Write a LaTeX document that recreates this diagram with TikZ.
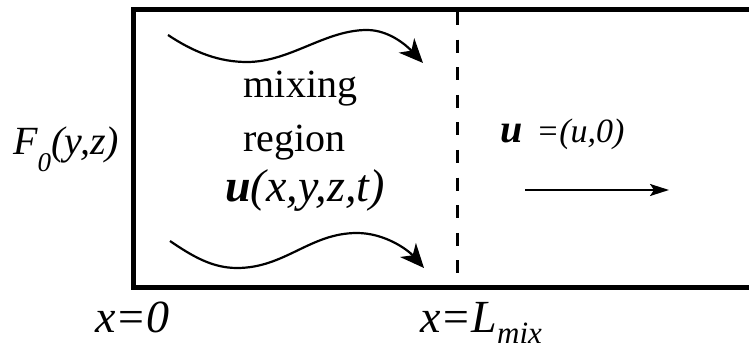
\documentclass[tikz,border=0pt]{standalone}
\usepackage{fontspec}
\setmainfont{LiberationSerif}[Extension=.ttf, UprightFont=*-Regular, ItalicFont=*-Italic, BoldFont=*-Bold, BoldItalicFont=*-BoldItalic]
\usetikzlibrary{arrows.meta}
\tikzset{
  wall/.style={line width=5pt, line join=miter},
  sep/.style={line width=3pt, dash pattern=on 13pt off 14.6pt},
  wave/.style={line width=2.2pt, -{Stealth[length=24pt,width=21pt,inset=7pt]}},
  flow/.style={line width=2pt, -{Stealth[length=19pt,width=12pt,inset=4pt]}},
  big/.style={font=\fontsize{40}{44}\selectfont, inner sep=0pt},
  lbl/.style={font=\fontsize{46}{50}\selectfont\itshape, inner sep=0pt},
  axl/.style={font=\fontsize{46}{50}\selectfont\itshape, inner sep=0pt},
}
\newcommand{\lowsub}[3]{\raisebox{#1}{\fontsize{#2}{#2}\selectfont\itshape #3}}
\begin{document}
\begin{tikzpicture}[x=1pt,y=-1pt]
\useasboundingbox (0,0) rectangle (749,352);
% box
\coordinate (tr) at (752,10);
\coordinate (tl) at (133,10);
\coordinate (bl) at (133,288);
\coordinate (br) at (752,288);
\draw[wall] (tr) -- (tl) -- (bl) -- (br);
% dashed separator
\coordinate (dtop) at (457.5,12);
\coordinate (dbot) at (457.5,275);
\draw[sep] (dtop) -- (dbot);
% wavy arrows
\coordinate (s1) at (168,35);
\coordinate (t1) at (247,62);
\coordinate (p1) at (367,30);
\coordinate (e1) at (423,63);
\draw[wave] (s1) .. controls (195,53) and (220,62) .. (t1)
  .. controls (290,62) and (325,30) .. (p1)
  .. controls (390,30) and (408,47) .. (e1);
\coordinate (s2) at (170,241);
\coordinate (t2) at (237,268);
\coordinate (p2) at (357,233);
\coordinate (e2) at (424,268);
\draw[wave] (s2) .. controls (192,256) and (212,268) .. (t2)
  .. controls (285,268) and (310,233) .. (p2)
  .. controls (385,233) and (408,250) .. (e2);
% flow arrow
\coordinate (fa) at (525,190);
\coordinate (fb) at (669,190);
\draw[flow] (fa) -- (fb);
% texts
\node[big, anchor=base] (mix) at (300.5,98) {mixing};
\node[big, anchor=base] (reg) at (294.5,152) {region};
\node[lbl, anchor=base west] (vel) at (225,202) {\textbf{u}(x,y,z,t)};
\node[big, anchor=base west] (F) at (13,155) {\itshape F\lowsub{-17pt}{27pt}{0}(y,z)};
\node[anchor=base west, inner sep=0pt] (uu) at (500,143) {\fontsize{40}{44}\selectfont\bfseries\itshape u\hspace{14pt}\fontsize{34}{36}\selectfont\mdseries =(u,0)};
\node[axl, anchor=base west] (x0) at (95,333) {x=0};
\node[axl, anchor=base west] (xL) at (420,333) {x=L\lowsub{-11pt}{31pt}{mix}};
\end{tikzpicture}
\end{document}
